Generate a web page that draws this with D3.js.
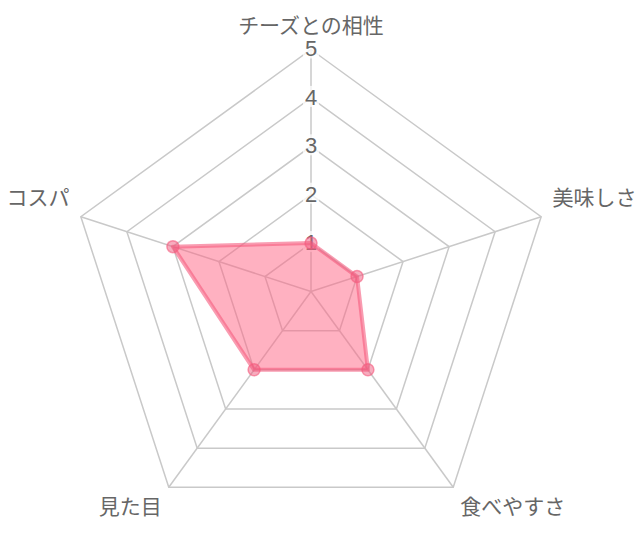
<!DOCTYPE html>
<html>
<head>
<meta charset="utf-8">
<script src="https://cdn.jsdelivr.net/npm/d3@7"></script>
<style>
  html, body { margin: 0; padding: 0; background: #fff; }
  svg { display: block; }
</style>
</head>
<body>
<script>
var labels = ['チーズとの相性', '美味しさ', '食べやすさ', '見た目', 'コスパ'];
var scores = [1, 1, 2, 2, 3];
var ticks = [1, 2, 3, 4, 5];

var width = 640,
  height = 539,
  cx = 311,
  cy = 291.5,
  radius = 242;

var svg = d3.select('body').append('svg')
  .attr('width', width)
  .attr('height', height);

var g = svg.append('g').attr('transform', 'translate(' + cx + ',' + cy + ')');

var r = d3.scaleLinear().domain([0, 5]).range([0, radius]);
var angle = d3.scalePoint().domain(d3.range(labels.length + 1)).range([0, 2 * Math.PI]);

function pt(i, v) {
  var a = angle(i) - Math.PI / 2;
  return [Math.cos(a) * r(v), Math.sin(a) * r(v)];
}

// rings
var ring = d3.lineRadial()
  .angle(function(d, i) { return angle(i); })
  .radius(function(d) { return r(d); })
  .curve(d3.curveLinearClosed);

g.selectAll('.ring')
  .data(ticks)
  .join('path')
  .attr('class', 'ring')
  .attr('d', function(t) { return ring(labels.map(function() { return t; })); })
  .attr('fill', 'none')
  .attr('stroke', '#c9c9c9')
  .attr('stroke-width', 1.5);

// spokes
g.selectAll('.spoke')
  .data(labels)
  .join('line')
  .attr('class', 'spoke')
  .attr('x1', 0).attr('y1', 0)
  .attr('x2', function(d, i) { return pt(i, 5)[0]; })
  .attr('y2', function(d, i) { return pt(i, 5)[1]; })
  .attr('stroke', '#c9c9c9')
  .attr('stroke-width', 1.5);

// tick labels with white backdrop
var tickG = g.selectAll('.tick')
  .data(ticks)
  .join('g')
  .attr('class', 'tick')
  .attr('transform', function(t) { return 'translate(0,' + (-r(t) - 1) + ')'; });

tickG.append('rect')
  .attr('x', -8).attr('y', -11)
  .attr('width', 16).attr('height', 21)
  .attr('fill', 'rgba(255,255,255,0.75)');

tickG.append('text')
  .attr('text-anchor', 'middle')
  .attr('dy', '0.36em')
  .attr('font-family', '"Liberation Sans", Arial, sans-serif')
  .attr('font-size', 22)
  .attr('fill', '#666')
  .text(function(t) { return t; });

// point labels
g.selectAll('.plabel')
  .data(labels)
  .join('text')
  .attr('class', 'plabel')
  .attr('x', function(d, i) { return pt(i, r.invert(radius + 12))[0]; })
  .attr('y', function(d, i) {
    var p = pt(i, r.invert(radius + 12));
    var s = Math.sin(angle(i) - Math.PI / 2);
    var dy = i === 0 ? -12 : (s < 0 ? -15 : 10);
    return p[1] + dy;
  })
  .attr('dy', '0.35em')
  .attr('text-anchor', function(d, i) {
    var c = Math.cos(angle(i) - Math.PI / 2);
    return Math.abs(c) < 0.01 ? 'middle' : (c > 0 ? 'start' : 'end');
  })
  .attr('font-family', '"Noto Sans CJK JP", sans-serif')
  .attr('font-size', 21)
  .attr('fill', '#666')
  .text(function(d) { return d; });

// dataset
g.append('path')
  .datum(scores)
  .attr('d', ring)
  .attr('fill', 'rgba(255,99,132,0.5)')
  .attr('stroke', 'rgba(245,90,125,0.6)')
  .attr('stroke-width', 4)
  .attr('stroke-linejoin', 'round');

g.selectAll('.dot')
  .data(scores)
  .join('circle')
  .attr('class', 'dot')
  .attr('cx', function(d, i) { return pt(i, d)[0]; })
  .attr('cy', function(d, i) { return pt(i, d)[1]; })
  .attr('r', 6)
  .attr('fill', 'rgba(240,90,125,0.5)')
  .attr('stroke', 'rgba(245,90,125,0.6)')
  .attr('stroke-width', 1.5);
</script>
</body>
</html>
